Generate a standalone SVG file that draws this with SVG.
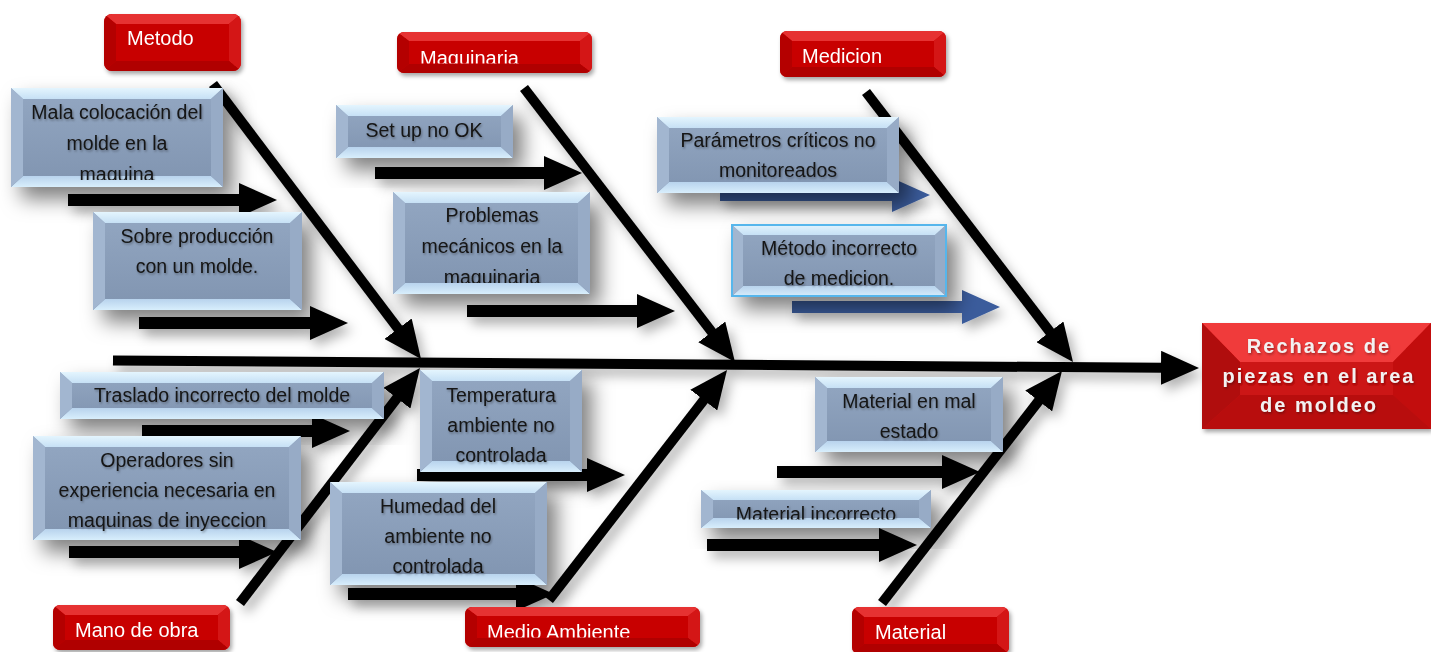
<svg xmlns="http://www.w3.org/2000/svg" width="1431" height="652" viewBox="0 0 1431 652">
<style>
.bone{stroke:#000;stroke-width:10;fill:none}
.shaft{stroke:#000;stroke-width:12;fill:none}
.bshaft{stroke:#3a5c9c;stroke-width:12;fill:none}
.face{fill:url(#gFace)}
.bt{fill:url(#gTop)}
.bb{fill:url(#gBot)}
.bl{fill:#a2b6d0}
.br{fill:#97abc6}
.ct{font-family:"Liberation Sans",Arial,sans-serif;font-size:19.5px;fill:#141414;text-anchor:middle}
.lbase{fill:#c80000}
.lt1{fill:#e63030}
.ll{fill:#b40000}
.lr{fill:#d41818}
.lb{fill:#b00000}
.lt{font-family:"Liberation Sans",Arial,sans-serif;font-size:20px;fill:#fff}
.et{font-family:"Liberation Sans",Arial,sans-serif;font-size:20px;font-weight:bold;fill:#f2f2f2;letter-spacing:2px;text-anchor:middle}
</style>
<defs>
<linearGradient id="gFace" x1="0" y1="0" x2="0" y2="1"><stop offset="0" stop-color="#93a7c2"/><stop offset="1" stop-color="#8094b0"/></linearGradient>
<linearGradient id="gTop" x1="0" y1="0" x2="0" y2="1"><stop offset="0" stop-color="#e4f5fe"/><stop offset="1" stop-color="#c6e0f5"/></linearGradient>
<linearGradient id="gBot" x1="0" y1="0" x2="0" y2="1"><stop offset="0" stop-color="#b8d3ed"/><stop offset="1" stop-color="#d8eefc"/></linearGradient>
<marker id="head" viewBox="0 0 38 34" refX="2" refY="17" markerWidth="38" markerHeight="34" markerUnits="userSpaceOnUse" orient="auto"><path d="M0,0 L38,17 L0,34 Z" fill="#000"/></marker>
<marker id="bhead" viewBox="0 0 38 34" refX="2" refY="17" markerWidth="38" markerHeight="34" markerUnits="userSpaceOnUse" orient="auto"><path d="M0,0 L38,17 L0,34 Z" fill="#3a5c9c"/></marker>
<filter id="boxShadow" x="-20%" y="-25%" width="155%" height="180%"><feDropShadow dx="10" dy="12" stdDeviation="10" flood-color="#000" flood-opacity="0.5"/></filter>
<filter id="lblShadow" x="-10%" y="-20%" width="125%" height="150%"><feDropShadow dx="2" dy="3" stdDeviation="2" flood-color="#000" flood-opacity="0.35"/></filter>
<filter id="lineShadow" filterUnits="userSpaceOnUse" x="0" y="0" width="1431" height="652"><feDropShadow dx="5" dy="7" stdDeviation="6" flood-color="#000" flood-opacity="0.3"/></filter>
<filter id="tShadow" x="-5%" y="-20%" width="110%" height="150%"><feDropShadow dx="1" dy="1.5" stdDeviation="1" flood-color="#000" flood-opacity="0.35"/></filter>
<clipPath id="c-metodo"><rect x="104" y="14" width="137" height="57" rx="8"/></clipPath>
<clipPath id="c-maquinaria"><rect x="397" y="32" width="195" height="41" rx="7"/></clipPath>
<clipPath id="c-medicion"><rect x="780" y="31" width="166" height="46" rx="7"/></clipPath>
<clipPath id="c-mano"><rect x="53" y="605" width="177" height="45" rx="7"/></clipPath>
<clipPath id="c-medio"><rect x="465" y="607" width="235" height="40" rx="7"/></clipPath>
<clipPath id="c-material"><rect x="852" y="607" width="157" height="47" rx="7"/></clipPath>
<clipPath id="t-maquinaria"><rect x="397" y="32" width="195" height="31.5"/></clipPath>
<clipPath id="t-medio"><rect x="465" y="607" width="235" height="30.5"/></clipPath>
<clipPath id="t-mala"><rect x="11" y="88" width="212" height="92"/></clipPath>
<clipPath id="t-problemas"><rect x="393" y="192" width="197" height="91"/></clipPath>
<clipPath id="t-matinc"><rect x="701" y="490" width="230" height="29.5"/></clipPath>
</defs>

<g id="connectors" filter="url(#lineShadow)">
<line class="bone" x1="113" y1="360.5" x2="1163" y2="367.8" marker-end="url(#head)"/>
<line class="bone" x1="213" y1="84" x2="399.3" y2="330.3" marker-end="url(#head)"/>
<line class="bone" x1="524" y1="88" x2="713" y2="333.5" marker-end="url(#head)"/>
<line class="bone" x1="866" y1="92" x2="1051.1" y2="333.4" marker-end="url(#head)"/>
<line class="bone" x1="240" y1="603" x2="398.1" y2="396.6" marker-end="url(#head)"/>
<line class="bone" x1="549" y1="600" x2="705" y2="398.5" marker-end="url(#head)"/>
<line class="bone" x1="882" y1="603" x2="1039.9" y2="399.4" marker-end="url(#head)"/>
<line class="shaft" x1="68" y1="200" x2="241" y2="200" marker-end="url(#head)"/>
<line class="shaft" x1="139" y1="323" x2="312" y2="323" marker-end="url(#head)"/>
<line class="shaft" x1="375" y1="173" x2="546" y2="173" marker-end="url(#head)"/>
<line class="shaft" x1="467" y1="311" x2="639" y2="311" marker-end="url(#head)"/>
<line class="bshaft" x1="720" y1="195" x2="894" y2="195" marker-end="url(#bhead)"/>
<line class="bshaft" x1="792" y1="307" x2="964" y2="307" marker-end="url(#bhead)"/>
<line class="shaft" x1="142" y1="431" x2="314" y2="431" marker-end="url(#head)"/>
<line class="shaft" x1="69" y1="552" x2="241" y2="552" marker-end="url(#head)"/>
<line class="shaft" x1="417" y1="475" x2="589" y2="475" marker-end="url(#head)"/>
<line class="shaft" x1="348" y1="594" x2="518" y2="594" marker-end="url(#head)"/>
<line class="shaft" x1="777" y1="472" x2="944" y2="472" marker-end="url(#head)"/>
<line class="shaft" x1="707" y1="545" x2="881" y2="545" marker-end="url(#head)"/>
</g>

<g id="cause-mala" filter="url(#boxShadow)">
<rect class="face" x="11" y="88" width="212" height="99"/>
<polygon class="bt" points="11,88 223,88 211,99 23,99"/>
<polygon class="bb" points="11,187 223,187 211,176 23,176"/>
<polygon class="bl" points="11,88 23,99 23,176 11,187"/>
<polygon class="br" points="223,88 211,99 211,176 223,187"/>
<text class="ct" clip-path="url(#t-mala)" filter="url(#tShadow)"><tspan x="117" y="119">Mala colocación del</tspan><tspan x="117" y="150">molde en la</tspan><tspan x="117" y="181">maquina</tspan></text>
</g>

<g id="cause-sobre" filter="url(#boxShadow)">
<rect class="face" x="93" y="212" width="209" height="98"/>
<polygon class="bt" points="93,212 302,212 290,223 105,223"/>
<polygon class="bb" points="93,310 302,310 290,299 105,299"/>
<polygon class="bl" points="93,212 105,223 105,299 93,310"/>
<polygon class="br" points="302,212 290,223 290,299 302,310"/>
<text class="ct" filter="url(#tShadow)"><tspan x="197" y="243">Sobre producción</tspan><tspan x="197" y="273">con un molde.</tspan></text>
</g>

<g id="cause-setup" filter="url(#boxShadow)">
<rect class="face" x="336" y="105" width="177" height="53"/>
<polygon class="bt" points="336,105 513,105 501,116 348,116"/>
<polygon class="bb" points="336,158 513,158 501,147 348,147"/>
<polygon class="bl" points="336,105 348,116 348,147 336,158"/>
<polygon class="br" points="513,105 501,116 501,147 513,158"/>
<text class="ct" filter="url(#tShadow)" x="424" y="137">Set up no OK</text>
</g>

<g id="cause-problemas" filter="url(#boxShadow)">
<rect class="face" x="393" y="192" width="197" height="102"/>
<polygon class="bt" points="393,192 590,192 578,203 405,203"/>
<polygon class="bb" points="393,294 590,294 578,283 405,283"/>
<polygon class="bl" points="393,192 405,203 405,283 393,294"/>
<polygon class="br" points="590,192 578,203 578,283 590,294"/>
<text class="ct" clip-path="url(#t-problemas)" filter="url(#tShadow)"><tspan x="492" y="222">Problemas</tspan><tspan x="492" y="253">mecánicos en la</tspan><tspan x="492" y="284">maquinaria</tspan></text>
</g>

<g id="cause-parametros" filter="url(#boxShadow)">
<rect class="face" x="657" y="117" width="242" height="76"/>
<polygon class="bt" points="657,117 899,117 887,128 669,128"/>
<polygon class="bb" points="657,193 899,193 887,182 669,182"/>
<polygon class="bl" points="657,117 669,128 669,182 657,193"/>
<polygon class="br" points="899,117 887,128 887,182 899,193"/>
<text class="ct" filter="url(#tShadow)"><tspan x="778" y="147">Parámetros críticos no</tspan><tspan x="778" y="177">monitoreados</tspan></text>
</g>

<g id="cause-metodo-incorrecto" filter="url(#boxShadow)">
<rect class="face" x="731" y="224" width="216" height="73"/>
<polygon class="bt" points="731,224 947,224 935,235 743,235"/>
<polygon class="bb" points="731,297 947,297 935,286 743,286"/>
<polygon class="bl" points="731,224 743,235 743,286 731,297"/>
<polygon class="br" points="947,224 935,235 935,286 947,297"/>
<rect x="732" y="225" width="214" height="71" fill="none" stroke="#56b6ec" stroke-width="2"/>
<text class="ct" filter="url(#tShadow)"><tspan x="839" y="255">Método incorrecto</tspan><tspan x="839" y="285">de medicion.</tspan></text>
</g>

<g id="cause-traslado" filter="url(#boxShadow)">
<rect class="face" x="60" y="372" width="324" height="47"/>
<polygon class="bt" points="60,372 384,372 372,383 72,383"/>
<polygon class="bb" points="60,419 384,419 372,408 72,408"/>
<polygon class="bl" points="60,372 72,383 72,408 60,419"/>
<polygon class="br" points="384,372 372,383 372,408 384,419"/>
<text class="ct" filter="url(#tShadow)" x="222" y="402">Traslado incorrecto del molde</text>
</g>

<g id="cause-operadores" filter="url(#boxShadow)">
<rect class="face" x="33" y="436" width="268" height="104"/>
<polygon class="bt" points="33,436 301,436 289,447 45,447"/>
<polygon class="bb" points="33,540 301,540 289,529 45,529"/>
<polygon class="bl" points="33,436 45,447 45,529 33,540"/>
<polygon class="br" points="301,436 289,447 289,529 301,540"/>
<text class="ct" filter="url(#tShadow)"><tspan x="167" y="467">Operadores sin</tspan><tspan x="167" y="497">experiencia necesaria en</tspan><tspan x="167" y="527">maquinas de inyeccion</tspan></text>
</g>

<g id="cause-temperatura" filter="url(#boxShadow)">
<rect class="face" x="420" y="370" width="162" height="102"/>
<polygon class="bt" points="420,370 582,370 570,381 432,381"/>
<polygon class="bb" points="420,472 582,472 570,461 432,461"/>
<polygon class="bl" points="420,370 432,381 432,461 420,472"/>
<polygon class="br" points="582,370 570,381 570,461 582,472"/>
<text class="ct" filter="url(#tShadow)"><tspan x="501" y="402">Temperatura</tspan><tspan x="501" y="432">ambiente no</tspan><tspan x="501" y="462">controlada</tspan></text>
</g>

<g id="cause-humedad" filter="url(#boxShadow)">
<rect class="face" x="330" y="482" width="217" height="103"/>
<polygon class="bt" points="330,482 547,482 535,493 342,493"/>
<polygon class="bb" points="330,585 547,585 535,574 342,574"/>
<polygon class="bl" points="330,482 342,493 342,574 330,585"/>
<polygon class="br" points="547,482 535,493 535,574 547,585"/>
<text class="ct" filter="url(#tShadow)"><tspan x="438" y="513">Humedad del</tspan><tspan x="438" y="543">ambiente no</tspan><tspan x="438" y="573">controlada</tspan></text>
</g>

<g id="cause-material-mal" filter="url(#boxShadow)">
<rect class="face" x="815" y="377" width="188" height="75"/>
<polygon class="bt" points="815,377 1003,377 991,388 827,388"/>
<polygon class="bb" points="815,452 1003,452 991,441 827,441"/>
<polygon class="bl" points="815,377 827,388 827,441 815,452"/>
<polygon class="br" points="1003,377 991,388 991,441 1003,452"/>
<text class="ct" filter="url(#tShadow)"><tspan x="909" y="408">Material en mal</tspan><tspan x="909" y="438">estado</tspan></text>
</g>

<g id="cause-material-incorrecto" filter="url(#boxShadow)">
<rect class="face" x="701" y="490" width="230" height="38"/>
<polygon class="bt" points="701,490 931,490 919,500 713,500"/>
<polygon class="bb" points="701,528 931,528 919,518 713,518"/>
<polygon class="bl" points="701,490 713,500 713,518 701,528"/>
<polygon class="br" points="931,490 919,500 919,518 931,528"/>
<text class="ct" clip-path="url(#t-matinc)" filter="url(#tShadow)" x="816" y="521">Material incorrecto</text>
</g>

<g id="cat-metodo" filter="url(#lblShadow)">
<rect class="lbase" x="104" y="14" width="137" height="57" rx="8"/>
<g clip-path="url(#c-metodo)">
<polygon class="lt1" points="104,14 241,14 229,24 116,24"/>
<polygon class="ll" points="104,14 116,24 116,61 104,71"/>
<polygon class="lr" points="241,14 229,24 229,61 241,71"/>
<polygon class="lb" points="104,71 241,71 229,61 116,61"/>
</g>
<text class="lt" x="127" y="45">Metodo</text>
</g>

<g id="cat-maquinaria" filter="url(#lblShadow)">
<rect class="lbase" x="397" y="32" width="195" height="41" rx="7"/>
<g clip-path="url(#c-maquinaria)">
<polygon class="lt1" points="397,32 592,32 580,41 409,41"/>
<polygon class="ll" points="397,32 409,41 409,64 397,73"/>
<polygon class="lr" points="592,32 580,41 580,64 592,73"/>
<polygon class="lb" points="397,73 592,73 580,64 409,64"/>
</g>
<text class="lt" clip-path="url(#t-maquinaria)" x="420" y="65">Maquinaria</text>
</g>

<g id="cat-medicion" filter="url(#lblShadow)">
<rect class="lbase" x="780" y="31" width="166" height="46" rx="7"/>
<g clip-path="url(#c-medicion)">
<polygon class="lt1" points="780,31 946,31 934,41 792,41"/>
<polygon class="ll" points="780,31 792,41 792,67 780,77"/>
<polygon class="lr" points="946,31 934,41 934,67 946,77"/>
<polygon class="lb" points="780,77 946,77 934,67 792,67"/>
</g>
<text class="lt" x="802" y="63">Medicion</text>
</g>

<g id="cat-mano" filter="url(#lblShadow)">
<rect class="lbase" x="53" y="605" width="177" height="45" rx="7"/>
<g clip-path="url(#c-mano)">
<polygon class="lt1" points="53,605 230,605 218,615 65,615"/>
<polygon class="ll" points="53,605 65,615 65,640 53,650"/>
<polygon class="lr" points="230,605 218,615 218,640 230,650"/>
<polygon class="lb" points="53,650 230,650 218,640 65,640"/>
</g>
<text class="lt" x="75" y="637">Mano de obra</text>
</g>

<g id="cat-medio" filter="url(#lblShadow)">
<rect class="lbase" x="465" y="607" width="235" height="40" rx="7"/>
<g clip-path="url(#c-medio)">
<polygon class="lt1" points="465,607 700,607 688,616 477,616"/>
<polygon class="ll" points="465,607 477,616 477,638 465,647"/>
<polygon class="lr" points="700,607 688,616 688,638 700,647"/>
<polygon class="lb" points="465,647 700,647 688,638 477,638"/>
</g>
<text class="lt" clip-path="url(#t-medio)" x="487" y="639">Medio Ambiente</text>
</g>

<g id="cat-material" filter="url(#lblShadow)">
<rect class="lbase" x="852" y="607" width="157" height="47" rx="7"/>
<g clip-path="url(#c-material)">
<polygon class="lt1" points="852,607 1009,607 997,617 864,617"/>
<polygon class="ll" points="852,607 864,617 864,644 852,654"/>
<polygon class="lr" points="1009,607 997,617 997,644 1009,654"/>
<polygon class="lb" points="852,654 1009,654 997,644 864,644"/>
</g>
<text class="lt" x="875" y="639">Material</text>
</g>

<g id="effect" filter="url(#lblShadow)">
<rect x="1202" y="323" width="229" height="106" fill="#cc1212"/>
<polygon points="1202,323 1431,323 1393,362 1240,362" fill="#f03a3a"/>
<polygon points="1202,323 1240,362 1240,395 1202,429" fill="#b00a0a"/>
<polygon points="1431,323 1393,362 1393,395 1431,429" fill="#c21010"/>
<polygon points="1202,429 1431,429 1393,395 1240,395" fill="#b80b0b"/>
<text class="et" filter="url(#tShadow)"><tspan x="1319" y="353">Rechazos de</tspan><tspan x="1319" y="383">piezas en el area</tspan><tspan x="1319" y="412">de moldeo</tspan></text>
</g>
</svg>
